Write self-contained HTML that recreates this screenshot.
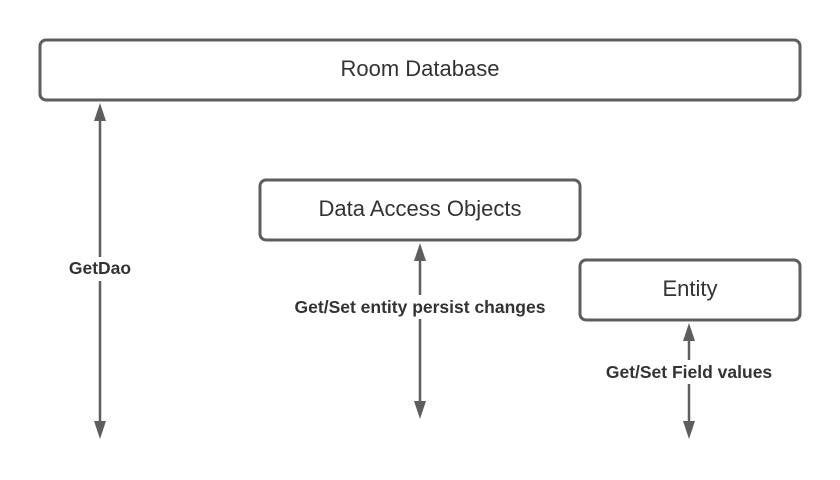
<!DOCTYPE html>
<html><head><meta charset="utf-8"><style>
html,body{margin:0;padding:0;background:#fff;}
svg{display:block;}
</style></head><body>
<svg width="840" height="480" xmlns="http://www.w3.org/2000/svg" font-family="Liberation Sans, sans-serif">
<g fill="#fff" stroke="#5e5e5e" stroke-width="3">
<rect x="40" y="40" width="760" height="60" rx="6"/>
<rect x="260" y="180" width="320" height="60" rx="6"/>
<rect x="580" y="260" width="220" height="60" rx="6"/>
</g>
<g fill="#333" font-size="22" text-anchor="middle">
<text x="420" y="76">Room Database</text>
<text x="420" y="216">Data Access Objects</text>
<text x="690" y="296">Entity</text>
</g>
<g stroke="#5e5e5e" stroke-width="2.5">
<line x1="100" y1="115" x2="100" y2="425"/>
<line x1="420" y1="255" x2="420" y2="405"/>
<line x1="689" y1="336" x2="689" y2="425"/>
</g>
<g fill="#5e5e5e">
<polygon points="100,103 94,121 106,121"/>
<polygon points="100,439 94,421 106,421"/>
<polygon points="420,243 414,261 426,261"/>
<polygon points="420,419 414,401 426,401"/>
<polygon points="689,323 683,341 695,341"/>
<polygon points="689,439 683,421 695,421"/>
</g>
<g fill="#fff">
<rect x="60" y="257" width="80" height="24"/>
<rect x="288" y="295" width="264" height="24"/>
<rect x="600" y="360" width="178" height="24"/>
</g>
<g fill="#333" font-size="17.5" font-weight="bold" text-anchor="middle">
<text x="100" y="274">GetDao</text>
<text x="420" y="313">Get/Set entity persist changes</text>
<text x="689" y="378">Get/Set Field values</text>
</g>
</svg>
</body></html>
